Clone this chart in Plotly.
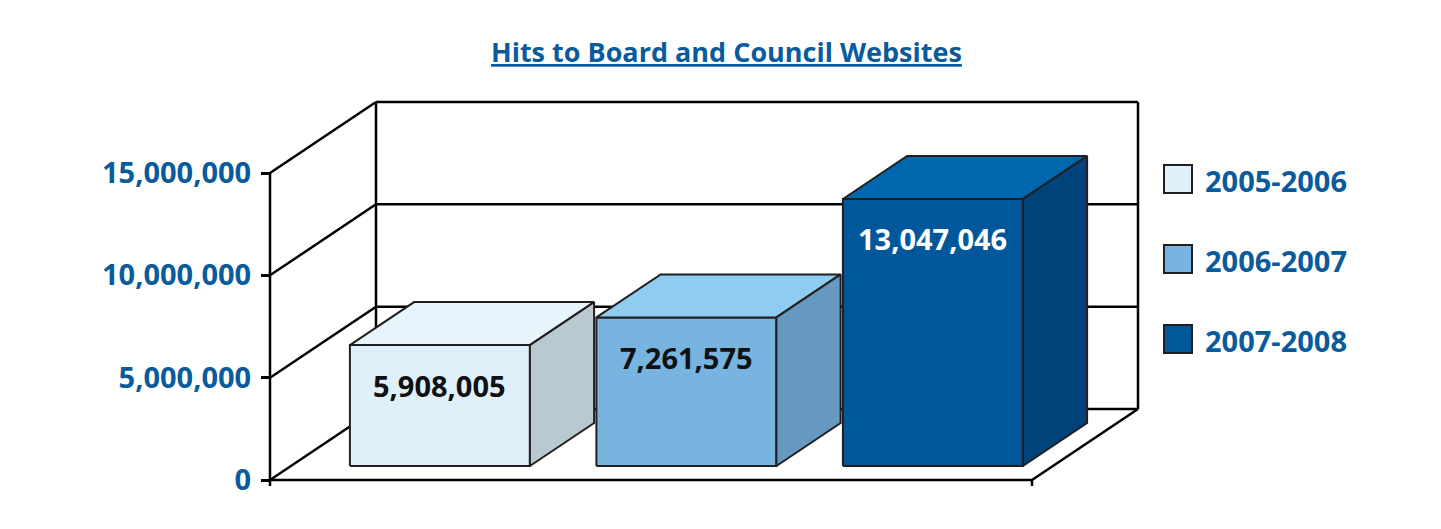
import plotly.graph_objects as go

# ---------------- data ----------------
categories = ["2005-2006", "2006-2007", "2007-2008"]
hits = [5908005, 7261575, 13047046]
tick_values = [0, 5000000, 10000000, 15000000]
tick_labels = ["0", "5,000,000", "10,000,000", "15,000,000"]
title_text = "Hits to Board and Council Websites"

# ---------------- style ----------------
front_colors = ["#dff0fa", "#77b4e0", "#00589a"]
top_colors = ["#e6f5fc", "#8ecdf0", "#0066ad"]
side_colors = ["#b8c9d2", "#6699c2", "#00437a"]
label_colors = ["#111111", "#111111", "#ffffff"]
edge_color = "#231f20"
text_blue = "#0a5b9c"
FONT = "Open Sans"

OFF = 8                   # page body margin: window px = figure px + OFF
W, H = 1441 - OFF, 529 - OFF
ML, MR, MT, MB = 192, 0, 0, 22
PW, PH = W - ML - MR, H - MT - MB
ZERO_PX = 480 - OFF       # screen y of value 0 on the front plane
AXIS_PX = 270 - OFF       # screen x of the front-left edge
CAT0_PX = 419 - OFF       # screen x of category 0 centre on the front plane
FLOOR_R_PX = 1032 - OFF
PX_PER_CAT = 246.5
VPP = 15e6 / 307.0        # value per pixel
DEPTH_PX = (106, 71)      # oblique offset of the back wall
BAR_W = 180 / PX_PER_CAT
BAR_Z0, BAR_Z1 = 14 / 71.0, 57 / 71.0

XL = (ML - CAT0_PX) / PX_PER_CAT
XR = (W - MR - CAT0_PX) / PX_PER_CAT
Y0 = -((H - MB) - ZERO_PX) * VPP
Y1 = (ZERO_PX - MT) * VPP
DX = DEPTH_PX[0] / PX_PER_CAT
DY = DEPTH_PX[1] * VPP
FX0 = (AXIS_PX - CAT0_PX) / PX_PER_CAT
FX1 = (FLOOR_R_PX - CAT0_PX) / PX_PER_CAT
TOP = tick_values[-1]


def proj(x, y, z):
    return x + z * DX, y + z * DY


def px_paper(wx, wy):
    """window pixel -> paper coords"""
    px, py = wx - OFF, wy - OFF
    return (px - ML) / PW, ((H - MB) - py) / PH


fig = go.Figure()

# ---------------- walls ----------------
shapes = []
wall = dict(color="#000000", width=2.5)


def seg(p, q, line=wall, layer="below"):
    shapes.append(dict(type="line", xref="x", yref="y", x0=p[0], y0=p[1],
                       x1=q[0], y1=q[1], line=line, layer=layer))


seg(proj(FX0, 0, 0), proj(FX0, TOP, 0))
seg(proj(FX0, 0, 1), proj(FX0, TOP, 1))
seg(proj(FX1, 0, 1), proj(FX1, TOP, 1))
for g in tick_values:
    seg(proj(FX0, g, 0), proj(FX0, g, 1))
    seg(proj(FX0, g, 1), proj(FX1, g, 1))
seg(proj(FX0, 0, 0), proj(FX1, 0, 0))
seg(proj(FX1, 0, 0), proj(FX1, 0, 1))
for fx in (FX0, FX1):
    seg((fx, 0), (fx, -6 * VPP))

# ---------------- bars ----------------
for i, (cat, v) in enumerate(zip(categories, hits)):
    l, r = i - BAR_W / 2, i + BAR_W / 2
    faces = [
        ([(l, 0, BAR_Z0), (r, 0, BAR_Z0), (r, v, BAR_Z0), (l, v, BAR_Z0)], front_colors[i]),
        ([(l, v, BAR_Z0), (r, v, BAR_Z0), (r, v, BAR_Z1), (l, v, BAR_Z1)], top_colors[i]),
        ([(r, 0, BAR_Z0), (r, 0, BAR_Z1), (r, v, BAR_Z1), (r, v, BAR_Z0)], side_colors[i]),
    ]
    for pts, col in faces:
        xy = [proj(*p) for p in pts]
        xs = [p[0] for p in xy] + [xy[0][0]]
        ys = [p[1] for p in xy] + [xy[0][1]]
        fig.add_trace(go.Scatter(x=xs, y=ys, mode="lines", fill="toself",
                                 fillcolor=col, line=dict(color=edge_color, width=2),
                                 hoverinfo="skip", showlegend=False, name=cat))

annotations = []
for i, v in enumerate(hits):
    cx, cy = proj(i, v, BAR_Z0)
    annotations.append(dict(x=cx, y=cy, xref="x", yref="y", yshift=-40,
                            text=f"{v:,}", showarrow=False, xanchor="center", yanchor="middle",
                            font=dict(family=FONT, size=29, color=label_colors[i], weight=700)))

# ---------------- legend ----------------
for i, cat in enumerate(categories):
    top_px = 165 + 80 * i
    x0, y0 = px_paper(1164, top_px + 28)
    x1, y1 = px_paper(1192, top_px)
    shapes.append(dict(type="rect", xref="paper", yref="paper", x0=x0, y0=y0, x1=x1, y1=y1,
                       fillcolor=front_colors[i], line=dict(color=edge_color, width=2)))
    tx, ty = px_paper(1203, top_px + 15)
    annotations.append(dict(x=tx, y=ty, xref="paper", yref="paper", text=cat, showarrow=False,
                            xanchor="left", yanchor="middle",
                            font=dict(family=FONT, size=29, color=text_blue, weight=700)))

# ---------------- title ----------------
tx, ty = px_paper(726, 52)
annotations.append(dict(x=tx, y=ty, xref="paper", yref="paper", text="<u>" + title_text + "</u>",
                        showarrow=False, xanchor="center", yanchor="middle",
                        font=dict(family=FONT, size=27, color=text_blue, weight=700)))

axis_pos = (AXIS_PX - ML) / PW
fig.update_layout(
    width=W, height=H,
    margin=dict(l=ML, r=MR, t=MT, b=MB, pad=0),
    paper_bgcolor="#ffffff", plot_bgcolor="rgba(0,0,0,0)",
    showlegend=False,
    shapes=shapes, annotations=annotations,
    xaxis=dict(range=[XL, XR], visible=False, fixedrange=True, domain=[0, 1]),
    yaxis=dict(range=[Y0, Y1], anchor="free", position=axis_pos,
               tickvals=tick_values, ticktext=tick_labels,
               ticks="outside", ticklen=9, tickwidth=2.5, tickcolor="#000000",
               showline=False, showgrid=False, zeroline=False, fixedrange=True,
               ticklabelstandoff=4,
               tickfont=dict(family=FONT, size=29, color=text_blue, weight=700)),
)

fig.write_html("out.html")
